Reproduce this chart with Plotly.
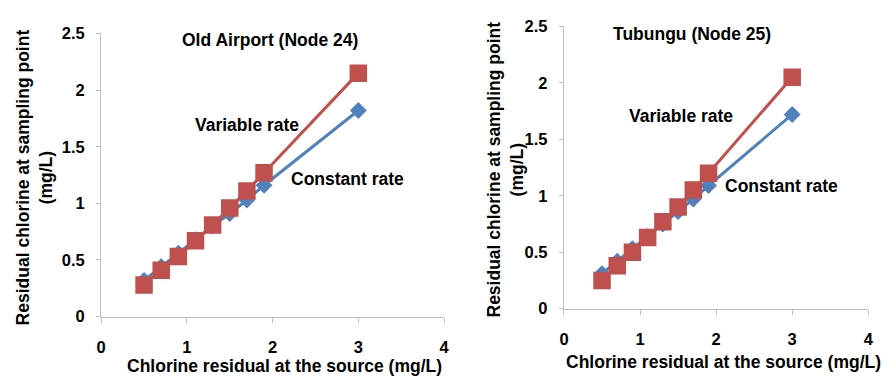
import plotly.graph_objects as go

# Chlorine residual at the source (mg/L)
source_cl = [0.5, 0.7, 0.9, 1.1, 1.3, 1.5, 1.7, 1.9, 3.0]

# Old Airport (Node 24)
node24_constant = [0.32, 0.44, 0.56, 0.68, 0.80, 0.91, 1.03, 1.16, 1.82]
node24_variable = [0.28, 0.41, 0.53, 0.67, 0.81, 0.96, 1.11, 1.27, 2.15]

# Tubungu (Node 25)
node25_constant = [0.31, 0.42, 0.53, 0.64, 0.75, 0.86, 0.97, 1.09, 1.72]
node25_variable = [0.25, 0.38, 0.50, 0.63, 0.77, 0.90, 1.05, 1.20, 2.05]

x_ticks = [0, 1, 2, 3, 4]
x_tick_text = ["<b>0</b>", "<b>1</b>", "<b>2</b>", "<b>3</b>", "<b>4</b>"]
y_ticks = [0, 0.5, 1, 1.5, 2, 2.5]
y_tick_text = ["<b>0</b>", "<b>0.5</b>", "<b>1</b>", "<b>1.5</b>", "<b>2</b>", "<b>2.5</b>"]

W, H = 896, 385
BLUE = "#4F81BD"
RED = "#C0504D"
AXIS = "#BFBFBF"
FONT = "Liberation Sans, Arial, sans-serif"


def px(x):
    return x / W


def py(y):
    return 1 - y / H


fig = go.Figure()

panels = [
    ("x", "y", node24_constant, node24_variable),
    ("x2", "y2", node25_constant, node25_variable),
]
for xa, ya, const, var in panels:
    fig.add_trace(go.Scatter(
        x=source_cl, y=const, xaxis=xa, yaxis=ya, mode="lines+markers",
        line=dict(color=BLUE, width=3),
        marker=dict(symbol="diamond", size=13, color=BLUE),
        showlegend=False, name="Constant rate"))
    fig.add_trace(go.Scatter(
        x=source_cl, y=var, xaxis=xa, yaxis=ya, mode="lines+markers",
        line=dict(color=RED, width=3),
        marker=dict(symbol="square", size=17.5, color=RED),
        showlegend=False, name="Variable rate"))

tickfont = dict(family=FONT, size=16.5, color="#000000")
xcommon = dict(range=[0, 4], tickvals=x_ticks, ticktext=x_tick_text,
               showgrid=False, zeroline=False,
               showline=True, linecolor=AXIS, linewidth=1.3,
               ticks="outside", ticklen=5, tickcolor=AXIS,
               ticklabelstandoff=10, tickfont=tickfont)
ycommon = dict(range=[0, 2.5], tickvals=y_ticks, ticktext=y_tick_text,
               showgrid=False, zeroline=False,
               showline=True, linecolor=AXIS, linewidth=1.3,
               ticks="outside", ticklen=4, tickcolor=AXIS,
               ticklabelstandoff=8, tickfont=tickfont)

fig.update_layout(
    width=W, height=H,
    margin=dict(l=0, r=0, t=0, b=0),
    paper_bgcolor="white", plot_bgcolor="white",
    font=dict(family=FONT, size=17.5, color="#000000"),
    xaxis=dict(domain=[px(97.3), px(444)], anchor="y", **xcommon),
    yaxis=dict(domain=[py(322.7), py(25.7)], anchor="x", **ycommon),
    xaxis2=dict(domain=[px(565.3), px(873)], anchor="y2", **xcommon),
    yaxis2=dict(domain=[py(314.3), py(18.3)], anchor="x2", **ycommon),
)

bold = dict(family=FONT, size=17.5, color="#000000")
labels = [
    ("<b>Old Airport (Node 24)</b>", 268, 32),
    ("<b>Variable rate</b>", 245, 122),
    ("<b>Constant rate</b>", 346, 178),
    ("<b>Chlorine residual at the source (mg/L)</b>", 283, 375),
    ("<b>Tubungu (Node 25)</b>", 695, 26),
    ("<b>Variable rate</b>", 684, 112),
    ("<b>Constant rate</b>", 785, 186),
    ("<b>Chlorine residual at the source (mg/L)</b>", 727, 370),
]
for text, x, y in labels:
    fig.add_annotation(text=text, x=px(x), y=py(y), xref="paper", yref="paper",
                       showarrow=False, xanchor="center", yanchor="middle",
                       font=bold)

for x, y in [(30, 177), (506, 168)]:
    fig.add_annotation(text="<b>Residual chlorine at sampling point<br>(mg/L)</b>",
                       x=px(x), y=py(y), xref="paper", yref="paper",
                       showarrow=False, textangle=-90,
                       xanchor="center", yanchor="middle", font=bold)

fig.write_html("out.html")
